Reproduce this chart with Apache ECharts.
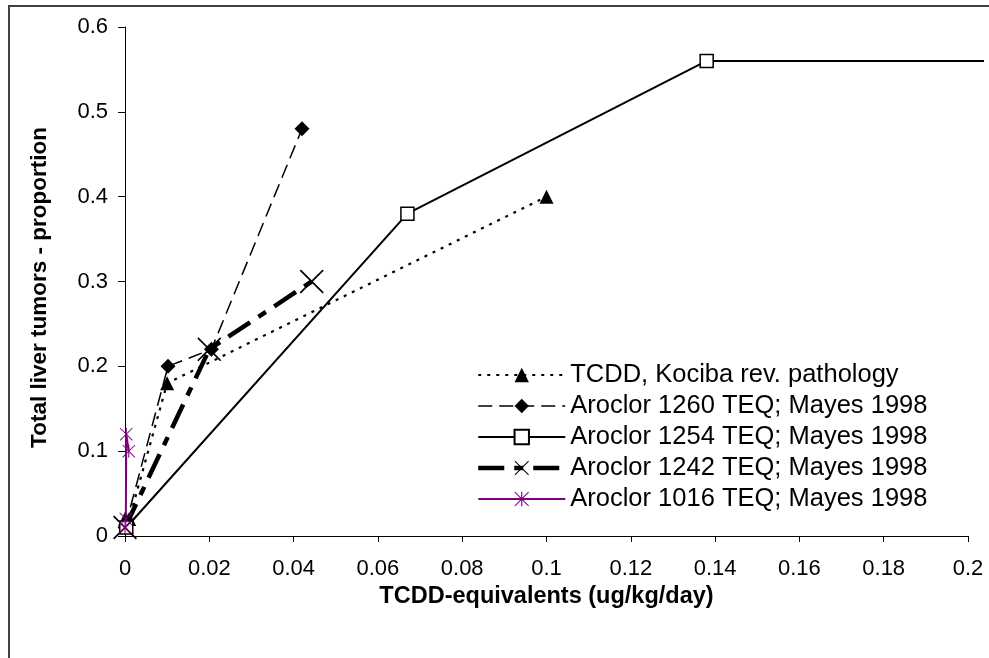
<!DOCTYPE html>
<html><head><meta charset="utf-8">
<script src="https://cdn.jsdelivr.net/npm/echarts@6/dist/echarts.min.js"></script>
<style>
html,body{margin:0;padding:0;width:989px;height:658px;overflow:hidden;background:#fff}
#frame{position:absolute;left:8px;top:5px;width:1200px;height:900px;border-left:2px solid #404040;border-top:2px solid #404040;box-sizing:border-box}
#chart{position:absolute;left:0;top:0;width:989px;height:658px}
</style></head><body>
<div id="frame"></div>
<div id="chart"></div>
<script>
// ---- data ----
const seriesNames = [
  'TCDD, Kociba rev. pathology',
  'Aroclor 1260 TEQ; Mayes 1998',
  'Aroclor 1254 TEQ; Mayes 1998',
  'Aroclor 1242 TEQ; Mayes 1998',
  'Aroclor 1016 TEQ; Mayes 1998'
];
const tcddX = [0, 0.001, 0.01, 0.1];
const tcddY = [0.02, 0.02, 0.18, 0.40];
const a1260X = [0, 0.0102, 0.0205, 0.042];
const a1260Y = [0.01, 0.20, 0.22, 0.48];
const a1254X = [0.0003, 0.067, 0.138, 0.25];
const a1254Y = [0.01, 0.38, 0.56, 0.56];
const a1242X = [0, 0.02, 0.0443];
const a1242Y = [0.01, 0.22, 0.30];
const a1016X = [0, 0.0002, 0.0003, 0.0009];
const a1016Y = [0.01, 0.02, 0.12, 0.10];
const xTickValues = [0, 0.02, 0.04, 0.06, 0.08, 0.1, 0.12, 0.14, 0.16, 0.18, 0.2];
const yTickValues = [0, 0.1, 0.2, 0.3, 0.4, 0.5, 0.6];
const xTitle = 'TCDD-equivalents (ug/kg/day)';
const yTitle = 'Total liver tumors - proportion';

// ---- helpers ----
const zip = (xs, ys) => xs.map((x, i) => [x, ys[i]]);
const FONT = '"Liberation Sans", Arial, sans-serif';
const crossPath = 'path://M0,1 L1,0 L10,9 L19,0 L20,1 L11,10 L20,19 L19,20 L10,11 L1,20 L0,19 L9,10 Z';
const starPath = 'path://M0,1 L1,0 L20,19 L19,20 Z M19,0 L20,1 L1,20 L0,19 Z M9.2,0 L10.8,0 L10.8,20 L9.2,20 Z';

// Plot area (as in the source chart) extends slightly past the last x tick.
const W = 989, LEFT = 125, RIGHT = 21, PLOT_RIGHT = 6;
const xMax = xTickValues[xTickValues.length - 1];
const xMaxPlot = xMax * (W - LEFT - PLOT_RIGHT) / (W - LEFT - RIGHT);

const a1254Data = zip(a1254X, a1254Y).map((p, i) =>
  i === a1254X.length - 1 ? { value: p, symbol: 'none' } : p);

const chart = echarts.init(document.getElementById('chart'), null, { renderer: 'canvas' });
chart.setOption({
  animation: false,
  textStyle: { fontFamily: FONT },
  grid: [
    { left: LEFT, right: RIGHT, top: 27, bottom: 122, containLabel: false },
    { left: LEFT, right: PLOT_RIGHT, top: 27, bottom: 122, containLabel: false }
  ],
  xAxis: [{
    type: 'value', gridIndex: 0, min: xTickValues[0], max: xMax,
    interval: xTickValues[1] - xTickValues[0],
    axisLine: { show: true, lineStyle: { color: '#000', width: 1 } },
    axisTick: { show: true, length: 6, lineStyle: { color: '#000' } },
    axisLabel: { fontSize: 22, color: '#000', margin: 22, fontFamily: FONT },
    splitLine: { show: false },
    name: xTitle, nameLocation: 'middle', nameGap: 37,
    nameTextStyle: { fontSize: 23.5, fontWeight: 'bold', color: '#000', fontFamily: FONT }
  }, {
    type: 'value', gridIndex: 1, min: 0, max: xMaxPlot, show: false
  }],
  yAxis: [{
    type: 'value', gridIndex: 0, min: yTickValues[0], max: yTickValues[yTickValues.length - 1],
    interval: yTickValues[1] - yTickValues[0],
    axisLine: { show: true, lineStyle: { color: '#000', width: 1 } },
    axisTick: { show: true, length: 7, lineStyle: { color: '#000' } },
    axisLabel: { fontSize: 22, color: '#000', margin: 17, fontFamily: FONT },
    splitLine: { show: false },
    name: yTitle, nameLocation: 'middle', nameRotate: 90, nameGap: 74,
    nameTextStyle: { fontSize: 22.5, fontWeight: 'bold', color: '#000', fontFamily: FONT, padding: [0, 12, 0, 0] }
  }, {
    type: 'value', gridIndex: 1, min: yTickValues[0], max: yTickValues[yTickValues.length - 1], show: false
  }],
  legend: {
    data: seriesNames, orient: 'vertical', left: 471, top: 357,
    itemWidth: 87, itemHeight: 18, itemGap: 5,
    lineStyle: { width: 'inherit' },
    textStyle: { fontSize: 25.5, lineHeight: 26, color: '#000', fontFamily: FONT },
    selectedMode: false
  },
  series: [
    {
      name: seriesNames[0], type: 'line', data: zip(tcddX, tcddY),
      symbol: 'triangle', symbolSize: 14,
      itemStyle: { color: '#000' },
      lineStyle: { color: '#000', width: 2.2, type: [3, 6] }
    },
    {
      name: seriesNames[1], type: 'line', data: zip(a1260X, a1260Y),
      symbol: 'diamond', symbolSize: 15,
      itemStyle: { color: '#000' },
      lineStyle: { color: '#000', width: 1.5, type: [14, 7] }
    },
    {
      name: seriesNames[2], type: 'line', data: a1254Data,
      xAxisIndex: 1, yAxisIndex: 1,
      symbol: 'rect', symbolSize: 13,
      itemStyle: { color: '#fff', borderColor: '#000', borderWidth: 1.5 },
      lineStyle: { color: '#000', width: 2 }
    },
    {
      name: seriesNames[3], type: 'line', data: zip(a1242X, a1242Y),
      symbol: crossPath, symbolSize: 24,
      itemStyle: { color: '#000' },
      lineStyle: { color: '#000', width: 4.5, type: [26, 10, 9, 10] }
    },
    {
      name: seriesNames[4], type: 'line', data: zip(a1016X, a1016Y),
      symbol: starPath, symbolSize: 13,
      itemStyle: { color: '#800080' },
      lineStyle: { color: '#800080', width: 2 }
    }
  ]
});
</script>
</body></html>
